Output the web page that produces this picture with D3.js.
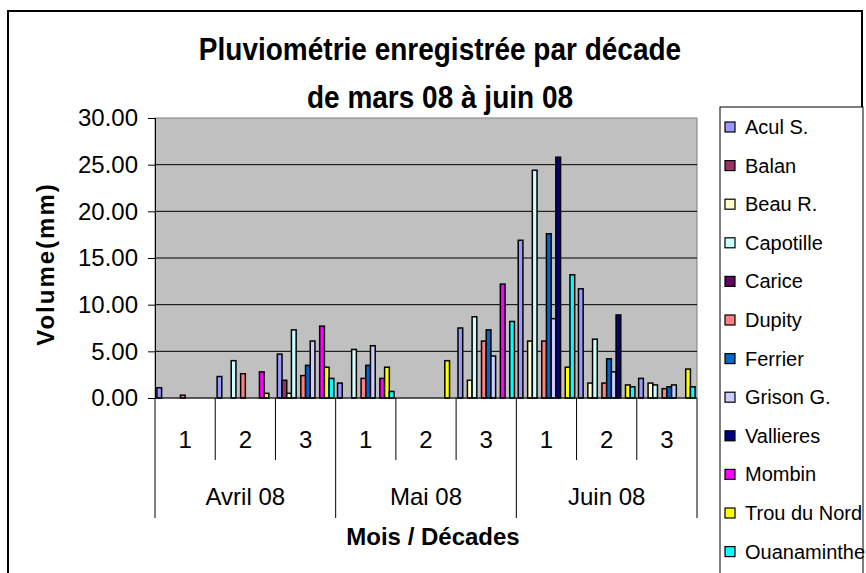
<!DOCTYPE html>
<html>
<head>
<meta charset="utf-8">
<script src="https://cdn.jsdelivr.net/npm/d3@7"></script>
<style>
  body { margin: 0; background: #fff; }
  text { font-family: "Liberation Sans", Arial, sans-serif; fill: #000; }
</style>
</head>
<body>
<svg id="chart" width="866" height="573"></svg>
<script>
// décades (groupes) et mois
const months = ["Avril 08", "Mai 08", "Juin 08"];
const decades = ["1", "2", "3"];
const groups = ["A1", "A2", "A3", "M1", "M2", "M3", "J1", "J2", "J3"];

const stations = ["Acul S.", "Balan", "Beau R.", "Capotille", "Carice", "Dupity",
    "Ferrier", "Grison G.", "Vallieres", "Mombin", "Trou du Nord", "Ouanaminthe"];

// pluviométrie (mm) par décade
const aculS       = [1.1, 2.3, 4.7, 1.6, 0, 7.5, 16.9, 11.7, 2.1];
const balan       = [0, 0, 1.9, 0, 0, 0, 0, 0, 0];
const beauR       = [0, 0, 0.5, 0, 0, 1.9, 6.1, 1.6, 1.6];
const capotille   = [0, 4.0, 7.3, 5.2, 0, 8.7, 24.4, 6.3, 1.4];
const carice      = [0, 0, 0, 0, 0, 0, 0, 0, 0];
const dupity      = [0.3, 2.6, 2.4, 2.1, 0, 6.1, 6.1, 1.6, 1.0];
const ferrier     = [0, 0, 3.5, 3.5, 0, 7.3, 17.6, 4.2, 1.2];
const grisonG     = [0, 0, 6.1, 5.6, 0, 4.5, 8.5, 2.8, 1.4];
const vallieres   = [0, 0, 0, 0, 0, 0, 25.8, 8.9, 0];
const mombin      = [0, 2.8, 7.7, 2.1, 0, 12.2, 0, 0, 0];
const trouDuNord  = [0, 0.5, 3.3, 3.3, 4.0, 0, 3.3, 1.4, 3.1];
const ouanaminthe = [0, 0, 2.1, 0.7, 0, 8.2, 13.2, 1.2, 1.2];

const seriesValues = [aculS, balan, beauR, capotille, carice, dupity,
    ferrier, grisonG, vallieres, mombin, trouDuNord, ouanaminthe];

const yTicks = [0, 5, 10, 15, 20, 25, 30];

const colors = ["#9999FF", "#993366", "#FFFFCC", "#CCFFFF", "#660066", "#FF8080",
    "#0066CC", "#CCCCFF", "#000080", "#FF00FF", "#FFFF00", "#00FFFF"];

const svg = d3.select("#chart");

const plot = { left: 155, right: 697, top: 118, bottom: 398 };

// cadre extérieur
svg.append("rect")
    .attr("x", 8).attr("y", 11)
    .attr("width", 854).attr("height", 620)
    .attr("fill", "#fff")
    .attr("stroke", "#000")
    .attr("stroke-width", 2);

// titre (glyphes un peu étirés en hauteur comme dans Excel)
svg.append("text")
    .attr("transform", "translate(440,60) scale(1,1.12)")
    .attr("text-anchor", "middle")
    .style("font-size", "28px").style("font-weight", "bold")
    .text("Pluviométrie enregistrée par décade");
svg.append("text")
    .attr("transform", "translate(440,108) scale(1,1.12)")
    .attr("text-anchor", "middle")
    .style("font-size", "28px").style("font-weight", "bold")
    .text("de mars 08 à juin 08");

let x = d3.scaleBand()
    .domain(groups)
    .range([plot.left, plot.right])
    .padding(0);

let xs = d3.scaleBand()
    .domain(d3.range(stations.length))
    .range([0, x.bandwidth()])
    .paddingInner(0)
    .paddingOuter(0.4);

let y = d3.scaleLinear()
    .domain([0, 30])
    .range([plot.bottom, plot.top]);

// fond de la zone de traçage
svg.append("rect")
    .attr("x", plot.left).attr("y", plot.top)
    .attr("width", plot.right - plot.left)
    .attr("height", plot.bottom - plot.top)
    .attr("fill", "#C0C0C0")
    .attr("stroke", "#808080")
    .attr("stroke-width", 1);

// quadrillage
svg.append("g")
    .selectAll("line")
    .data(yTicks.filter(d => d > 0 && d < 30))
    .join("line")
    .attr("x1", plot.left).attr("x2", plot.right)
    .attr("y1", d => y(d)).attr("y2", d => y(d))
    .attr("stroke", "#000")
    .attr("stroke-width", 1);

// barres
let bars = [];
seriesValues.forEach((vals, s) => {
    vals.forEach((v, g) => {
        if (v > 0) bars.push({ s: s, g: groups[g], v: v });
    });
});

svg.append("g")
    .selectAll("rect")
    .data(bars)
    .join("rect")
    .attr("x", d => x(d.g) + xs(d.s))
    .attr("y", d => y(d.v))
    .attr("width", xs.bandwidth())
    .attr("height", d => y(0) - y(d.v))
    .attr("fill", d => colors[d.s])
    .attr("stroke", "#000")
    .attr("stroke-width", 1.5);

// axe Y
let yAxis = svg.append("g")
    .attr("transform", `translate(${plot.left},0)`)
    .call(d3.axisLeft(y).tickValues(yTicks).tickFormat(d3.format(".2f"))
        .tickSize(7).tickPadding(10));
yAxis.select(".domain").attr("stroke", "#000");
yAxis.selectAll("text")
    .style("font-size", "24px")
    .style("font-family", "'Liberation Sans', Arial, sans-serif");

// axe X
svg.append("line")
    .attr("x1", plot.left).attr("x2", plot.right)
    .attr("y1", plot.bottom).attr("y2", plot.bottom)
    .attr("stroke", "#000");

let bounds = groups.map(g => x(g)).concat([plot.right]);
svg.append("g")
    .selectAll("line")
    .data(bounds)
    .join("line")
    .attr("x1", d => d).attr("x2", d => d)
    .attr("y1", plot.bottom)
    .attr("y2", (d, i) => i % 3 == 0 ? 518 : 460)
    .attr("stroke", "#000");

svg.append("g")
    .selectAll("text")
    .data(groups)
    .join("text")
    .attr("x", d => x(d) + x.bandwidth() / 2)
    .attr("y", 448)
    .attr("text-anchor", "middle")
    .style("font-size", "24px")
    .text((d, i) => decades[i % 3]);

svg.append("g")
    .selectAll("text")
    .data(months)
    .join("text")
    .attr("x", (d, i) => (x(groups[i * 3]) + x(groups[i * 3 + 2]) + x.bandwidth()) / 2)
    .attr("y", 505)
    .attr("text-anchor", "middle")
    .style("font-size", "24px")
    .text(d => d);

// titres des axes
svg.append("text")
    .attr("x", 433).attr("y", 545)
    .attr("text-anchor", "middle")
    .style("font-size", "24px").style("font-weight", "bold")
    .text("Mois / Décades");

svg.append("text")
    .attr("transform", `translate(54,${(plot.top + plot.bottom) / 2 + 6}) rotate(-90)`)
    .attr("text-anchor", "middle")
    .style("font-size", "24px").style("font-weight", "bold")
    .style("letter-spacing", "2px")
    .text("Volume(mm)");

// légende
svg.append("rect")
    .attr("x", 720).attr("y", 107)
    .attr("width", 143).attr("height", 520)
    .attr("fill", "#fff")
    .attr("stroke", "#000")
    .attr("stroke-width", 1);

let leg = svg.append("g")
    .selectAll("g")
    .data(stations)
    .join("g")
    .attr("transform", (d, i) => `translate(725,${127 + i * 38.6})`);

leg.append("rect")
    .attr("x", 0).attr("y", -5)
    .attr("width", 10).attr("height", 10)
    .attr("fill", (d, i) => colors[i])
    .attr("stroke", "#000")
    .attr("stroke-width", 1.2);

leg.append("text")
    .attr("x", 20).attr("y", 7)
    .style("font-size", "20px")
    .text(d => d);
</script>
</body>
</html>
